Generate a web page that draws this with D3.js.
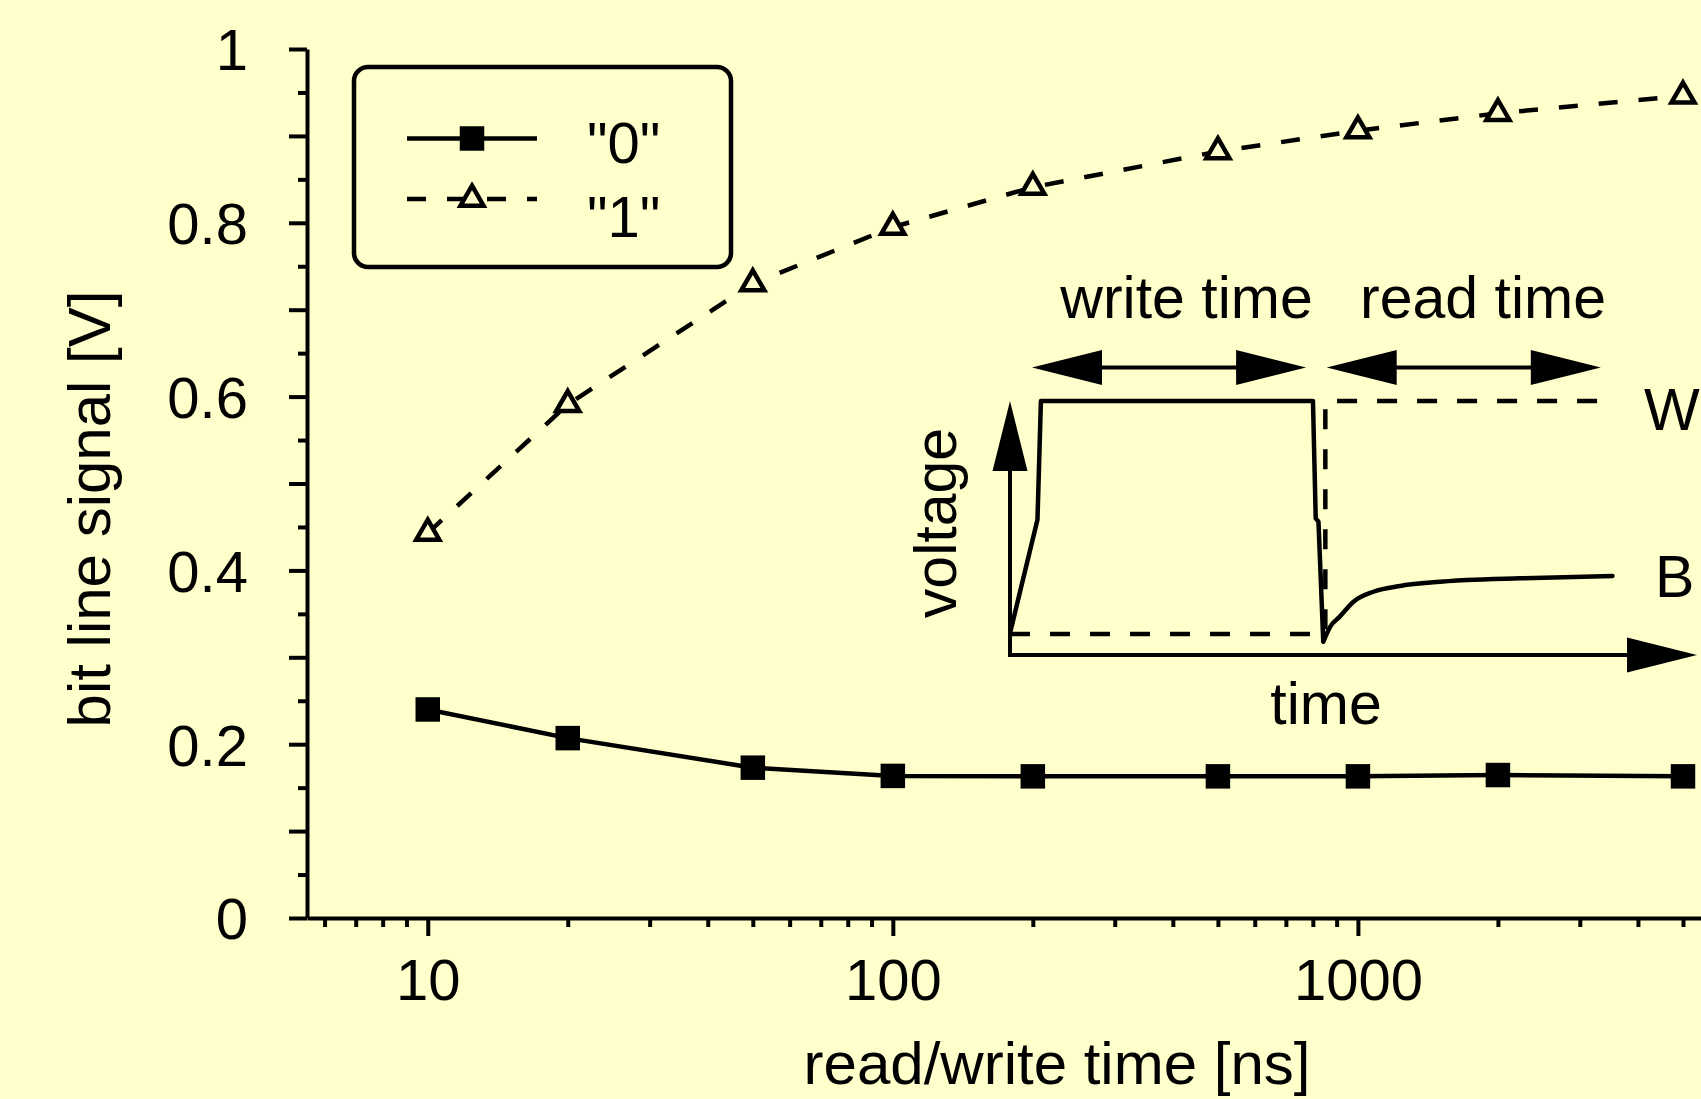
<!DOCTYPE html>
<html>
<head>
<meta charset="utf-8">
<style>
    body { margin: 0; padding: 0; overflow: hidden; background-color: #ffffcc; }
    svg { display: block; }
    text { font-family: "Liberation Sans", Arial, Helvetica, sans-serif; fill: #000; }
    .axis path, .axis line { stroke: #000; stroke-width: 4; }
</style>
</head>
<body>
<div id="chart"></div>
<script src="https://d3js.org/d3.v7.min.js"></script>
<script>
    // read/write time [ns] and bit line signal [V]
    var times = [10, 20, 50, 100, 200, 500, 1000, 2000, 5000];
    var signal0 = [0.240, 0.207, 0.173, 0.1635, 0.163, 0.163, 0.163, 0.1645, 0.163];
    var signal1 = [0.443, 0.591, 0.730, 0.795, 0.841, 0.882, 0.906, 0.926, 0.946];
    var seriesNames = ['"0"', '"1"'];

    var yMajorTicks = [0, 0.1, 0.2, 0.3, 0.4, 0.5, 0.6, 0.7, 0.8, 0.9, 1];
    var yMinorTicks = [0.05, 0.15, 0.25, 0.35, 0.45, 0.55, 0.65, 0.75, 0.85, 0.95];
    var yLabels = [0, 0.2, 0.4, 0.6, 0.8, 1];
    var xMajorTicks = [10, 100, 1000];
    var xMinorTicks = [6, 7, 8, 9, 20, 30, 40, 50, 60, 70, 80, 90,
                       200, 300, 400, 500, 600, 700, 800, 900,
                       2000, 3000, 4000, 5000, 6000, 7000, 8000, 9000];

    // inset sketch, arbitrary units (time 0-100, voltage 0-100)
    var bitWriteT = [0, 4.0, 4.5, 44.1, 44.5, 44.9, 45.6];
    var bitWriteV = [8.6, 53.3, 100, 100, 53.8, 52.5, 5.2];
    var bitReadT = [45.6, 46.6, 48.0, 50.0, 52.9, 56.8, 61.6, 66.5, 74.2, 87.7];
    var bitReadV = [5.2, 11.1, 15.1, 21.0, 24.9, 27.2, 28.6, 29.5, 30.2, 31.1];
    var wordT = [0, 45.9, 45.9, 85.9];
    var wordV = [8.3, 8.3, 100, 100];
    var writeSpan = [3.2, 43.1];
    var readSpan = [46.1, 86.0];

    var width = 1701, height = 1099;
    var bg = "#ffffcc";
    var lw = 4.5;

    var svg = d3.select("#chart").append("svg")
        .attr("width", width)
        .attr("height", height);

    svg.append("rect").attr("width", width).attr("height", height).attr("fill", bg);

    var x = d3.scaleLog().domain([5.5, 10000]).range([307, 1823]);
    var y = d3.scaleLinear().domain([0, 1]).range([918, 49]);

    // axes
    svg.append("g").attr("class", "axis")
        .attr("transform", "translate(0," + y(0) + ")")
        .call(d3.axisBottom(x).tickValues(xMinorTicks).tickSize(9).tickSizeOuter(0).tickFormat(""));

    var xMajor = svg.append("g").attr("class", "axis")
        .attr("transform", "translate(0," + y(0) + ")")
        .call(d3.axisBottom(x).tickValues(xMajorTicks).tickSize(18).tickSizeOuter(0)
            .tickPadding(23).tickFormat(d3.format("d")));
    xMajor.select(".domain").remove();

    svg.append("g").attr("class", "axis")
        .attr("transform", "translate(" + x.range()[0] + ",0)")
        .call(d3.axisLeft(y).tickValues(yMinorTicks).tickSize(9).tickSizeOuter(0).tickFormat(""));

    var yMajor = svg.append("g").attr("class", "axis")
        .attr("transform", "translate(" + x.range()[0] + ",0)")
        .call(d3.axisLeft(y).tickValues(yMajorTicks).tickSize(18).tickSizeOuter(0).tickPadding(41)
            .tickFormat(function(d) { return yLabels.indexOf(d) >= 0 ? d3.format("~g")(d) : ""; }));
    yMajor.select(".domain").remove();

    svg.selectAll(".axis text")
        .style("font-family", '"Liberation Sans", Arial, sans-serif')
        .style("font-size", "58px")
        .attr("fill", "#000");
    yMajor.selectAll("text").attr("dy", "0.36em");

    svg.append("text")
        .attr("transform", "translate(110,509) rotate(-90)")
        .attr("text-anchor", "middle")
        .style("font-size", "60px")
        .text("bit line signal [V]");

    svg.append("text")
        .attr("x", 1057).attr("y", 1084)
        .attr("text-anchor", "middle")
        .style("font-size", "60px")
        .text("read/write time [ns]");

    // series
    var pts0 = times.map(function(t, i) { return [t, signal0[i]]; });
    var pts1 = times.map(function(t, i) { return [t, signal1[i]]; });
    var line = d3.line().x(function(d) { return x(d[0]); }).y(function(d) { return y(d[1]); });

    svg.append("path").datum(pts0).attr("d", line)
        .attr("fill", "none").attr("stroke", "#000").attr("stroke-width", lw);
    svg.append("path").datum(pts1).attr("d", line)
        .attr("fill", "none").attr("stroke", "#000").attr("stroke-width", lw)
        .attr("stroke-dasharray", "19,21");

    var square = d3.symbol(d3.symbolSquare, 600);
    var triangle = d3.symbol(d3.symbolTriangle, 230);

    svg.selectAll(".sq").data(pts0).enter().append("path")
        .attr("class", "sq")
        .attr("d", square)
        .attr("transform", function(d) { return "translate(" + x(d[0]) + "," + y(d[1]) + ")"; })
        .attr("fill", "#000");

    svg.selectAll(".tri").data(pts1).enter().append("path")
        .attr("class", "tri")
        .attr("d", triangle)
        .attr("transform", function(d) { return "translate(" + x(d[0]) + "," + y(d[1]) + ")"; })
        .attr("fill", bg).attr("stroke", "#000").attr("stroke-width", lw)
        .attr("stroke-linejoin", "miter");

    // legend
    var legend = svg.append("g");
    legend.append("rect")
        .attr("x", 354).attr("y", 67).attr("width", 377).attr("height", 200)
        .attr("rx", 14).attr("ry", 14)
        .attr("fill", "none").attr("stroke", "#000").attr("stroke-width", lw);

    var legendRows = [
        { y: 138.5, textY: 163, dash: null, sym: square, fill: "#000", stroke: "none" },
        { y: 199, textY: 237, dash: "19,21", sym: triangle, fill: bg, stroke: "#000" }
    ];
    legendRows.forEach(function(r, i) {
        legend.append("line")
            .attr("x1", 407).attr("x2", 537).attr("y1", r.y).attr("y2", r.y)
            .attr("stroke", "#000").attr("stroke-width", lw)
            .attr("stroke-dasharray", r.dash);
        legend.append("path")
            .attr("d", r.sym)
            .attr("transform", "translate(472," + r.y + ")")
            .attr("fill", r.fill).attr("stroke", r.stroke).attr("stroke-width", lw);
        legend.append("text")
            .attr("x", 587).attr("y", r.textY)
            .style("font-size", "58px")
            .text(seriesNames[i]);
    });

    // inset sketch
    var ix = d3.scaleLinear().domain([0, 100]).range([1010, 1697]);
    var iy = d3.scaleLinear().domain([0, 100]).range([655, 401]);
    var inset = svg.append("g");

    function arrow(p1, p2, both) {
        var x1 = ix(p1[0]), y1 = iy(p1[1]), x2 = ix(p2[0]), y2 = iy(p2[1]);
        var len = Math.hypot(x2 - x1, y2 - y1), ux = (x2 - x1) / len, uy = (y2 - y1) / len;
        var hl = 70, hw = 17.5;
        var sx = both ? x1 + ux * (hl - 4) : x1, sy = both ? y1 + uy * (hl - 4) : y1;
        inset.append("line")
            .attr("x1", sx).attr("y1", sy)
            .attr("x2", x2 - ux * (hl - 4)).attr("y2", y2 - uy * (hl - 4))
            .attr("stroke", "#000").attr("stroke-width", 4)
            .attr("stroke-linecap", both ? "butt" : "square");
        var heads = both ? [[x2, y2, ux, uy], [x1, y1, -ux, -uy]] : [[x2, y2, ux, uy]];
        heads.forEach(function(h) {
            var bx = h[0] - h[2] * hl, by = h[1] - h[3] * hl;
            inset.append("path")
                .attr("d", "M" + h[0] + "," + h[1] +
                    "L" + (bx - h[3] * hw) + "," + (by + h[2] * hw) +
                    "L" + (bx + h[3] * hw) + "," + (by - h[2] * hw) + "Z")
                .attr("fill", "#000");
        });
    }

    arrow([0, 0], [100, 0], false);
    arrow([0, 0], [0, 100], false);
    arrow([writeSpan[0], 113.2], [writeSpan[1], 113.2], true);
    arrow([readSpan[0], 113.2], [readSpan[1], 113.2], true);

    var iline = d3.line().x(function(d) { return ix(d[0]); }).y(function(d) { return iy(d[1]); });

    inset.append("path")
        .datum(wordT.map(function(t, i) { return [t, wordV[i]]; }))
        .attr("d", iline)
        .attr("fill", "none").attr("stroke", "#000").attr("stroke-width", lw)
        .attr("stroke-dasharray", "20,20");

    inset.append("path")
        .datum(bitWriteT.map(function(t, i) { return [t, bitWriteV[i]]; }))
        .attr("d", iline)
        .attr("fill", "none").attr("stroke", "#000").attr("stroke-width", lw)
        .attr("stroke-linejoin", "round");

    inset.append("path")
        .datum(bitReadT.map(function(t, i) { return [t, bitReadV[i]]; }))
        .attr("d", iline.curve(d3.curveMonotoneX))
        .attr("fill", "none").attr("stroke", "#000").attr("stroke-width", lw)
        .attr("stroke-linecap", "round");

    var insetTexts = [
        { t: "write time", x: 1186.5, y: 318, anchor: "middle" },
        { t: "read time", x: 1483, y: 318, anchor: "middle" },
        { t: "W", x: 1644, y: 430, anchor: "start" },
        { t: "B", x: 1655, y: 597, anchor: "start" },
        { t: "time", x: 1326, y: 724, anchor: "middle" }
    ];
    insetTexts.forEach(function(d) {
        inset.append("text")
            .attr("x", d.x).attr("y", d.y)
            .attr("text-anchor", d.anchor)
            .style("font-size", "59px")
            .text(d.t);
    });
    inset.append("text")
        .attr("transform", "translate(956,523) rotate(-90)")
        .attr("text-anchor", "middle")
        .style("font-size", "59px")
        .text("voltage");
</script>
</body>
</html>
